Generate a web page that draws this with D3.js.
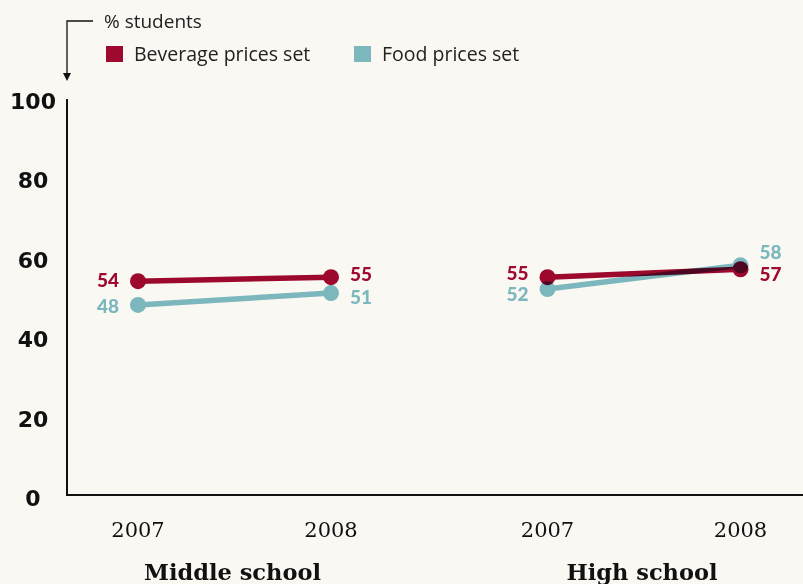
<!DOCTYPE html>
<html>
<head>
  <meta charset="utf-8">
  <script src="https://d3js.org/d3.v7.min.js"></script>
  <style>
    body { margin: 0; background: #faf8f3; }
  </style>
</head>
<body>
  <div id="chart"></div>
  <script>
    const groups = ["Middle school", "High school"];
    const years = ["2007", "2008"];
    const yTicks = [0, 20, 40, 60, 80, 100];
    const beverage = [54, 55, 55, 57];
    const food = [48, 51, 52, 58];

    const W = 803, H = 584;
    const red = "#a0092f", teal = "#7bb7bc";

    const svg = d3.select("#chart").append("svg")
      .attr("width", W).attr("height", H)
      .style("background", "#faf8f3");

    const y = d3.scaleLinear().domain([0, 100]).range([495, 99]);
    const xGroup = d3.scalePoint().domain(groups).range([234.5, 644]);
    const xYear = d3.scalePoint().domain(years).range([-96.5, 96.5]);
    const xPos = i => xGroup(groups[Math.floor(i / 2)]) + xYear(years[i % 2]);

    // axes
    svg.append("line").attr("x1", 67).attr("x2", 67).attr("y1", y(100)).attr("y2", y(0) + 0.5)
      .attr("stroke", "#111").attr("stroke-width", 2);
    svg.append("line").attr("x1", 66).attr("x2", W).attr("y1", y(0)).attr("y2", y(0))
      .attr("stroke", "#111").attr("stroke-width", 2);

    svg.selectAll(".ytick").data(yTicks).join("text")
      .attr("x", 33).attr("y", d => y(d) + 4 + (100 - d) * 0.01)
      .attr("text-anchor", "middle").attr("dominant-baseline", "middle")
      .style("font-family", "'DejaVu Sans', sans-serif").style("font-weight", "bold")
      .style("font-size", "22px").attr("fill", "#111")
      .text(d => d);

    // x labels
    const xLabels = [];
    groups.forEach(g => years.forEach(yr => xLabels.push({ g, yr })));
    svg.selectAll(".xtick").data(xLabels).join("text")
      .attr("x", d => xGroup(d.g) + xYear(d.yr)).attr("y", 537)
      .attr("text-anchor", "middle")
      .style("font-family", "'DejaVu Serif', serif").style("font-size", "21px")
      .attr("fill", "#111").text(d => d.yr);
    svg.selectAll(".glabel").data(groups).join("text")
      .attr("x", d => xGroup(d) - 2).attr("y", 580)
      .attr("text-anchor", "middle")
      .style("font-family", "'DejaVu Serif', serif").style("font-weight", "bold").style("font-size", "22.5px")
      .attr("fill", "#111").text(d => d);

    // title + arrow
    svg.append("path").attr("d", "M93,21 H67 V74").attr("fill", "none").attr("stroke", "#111").attr("stroke-width", 1.3);
    svg.append("path").attr("d", "M63,73 L71,73 L67,81 Z").attr("fill", "#111");
    svg.append("text").attr("x", 104).attr("y", 28)
      .style("font-family", "'Open Sans', sans-serif").style("font-size", "19px").attr("fill", "#222")
      .text("% students");

    // legend
    const legend = [{ name: "Beverage prices set", c: red, x: 106 }, { name: "Food prices set", c: teal, x: 354 }];
    legend.forEach(l => {
      svg.append("rect").attr("x", l.x).attr("y", 46).attr("width", 17).attr("height", 16).attr("fill", l.c);
      svg.append("text").attr("x", l.x + 28).attr("y", 61)
        .style("font-family", "'Open Sans', sans-serif").style("font-size", "19.5px").attr("fill", "#222")
        .text(l.name);
    });

    const series = [
      { vals: food, c: teal, blend: "normal", dy: [2, 5, 6, -12] },
      { vals: beverage, c: red, blend: "multiply", dy: [0, -2, -3, 6] }
    ];
    const line = d3.line().x(d => d.x).y(d => d.y);

    series.forEach(s => {
      const g = svg.append("g").style("mix-blend-mode", s.blend);
      groups.forEach((grp, gi) => {
        const pts = [0, 1].map(k => ({ x: xPos(gi * 2 + k), y: y(s.vals[gi * 2 + k]) }));
        g.append("path").attr("d", line(pts)).attr("fill", "none")
          .attr("stroke", s.c).attr("stroke-width", 5.5);
        g.selectAll(null).data(pts).join("circle")
          .attr("cx", d => d.x).attr("cy", d => d.y).attr("r", 8).attr("fill", s.c);
      });
      s.vals.forEach((v, i) => {
        const left = i % 2 === 0;
        svg.append("text")
          .attr("x", xPos(i) + (left ? -19 : 19))
          .attr("y", y(v) + s.dy[i] + 6)
          .attr("text-anchor", left ? "end" : "start")
          .style("font-family", "Lato, sans-serif").style("font-weight", 900).style("font-size", "19px")
          .attr("fill", s.c).text(v);
      });
    });
  </script>
</body>
</html>
